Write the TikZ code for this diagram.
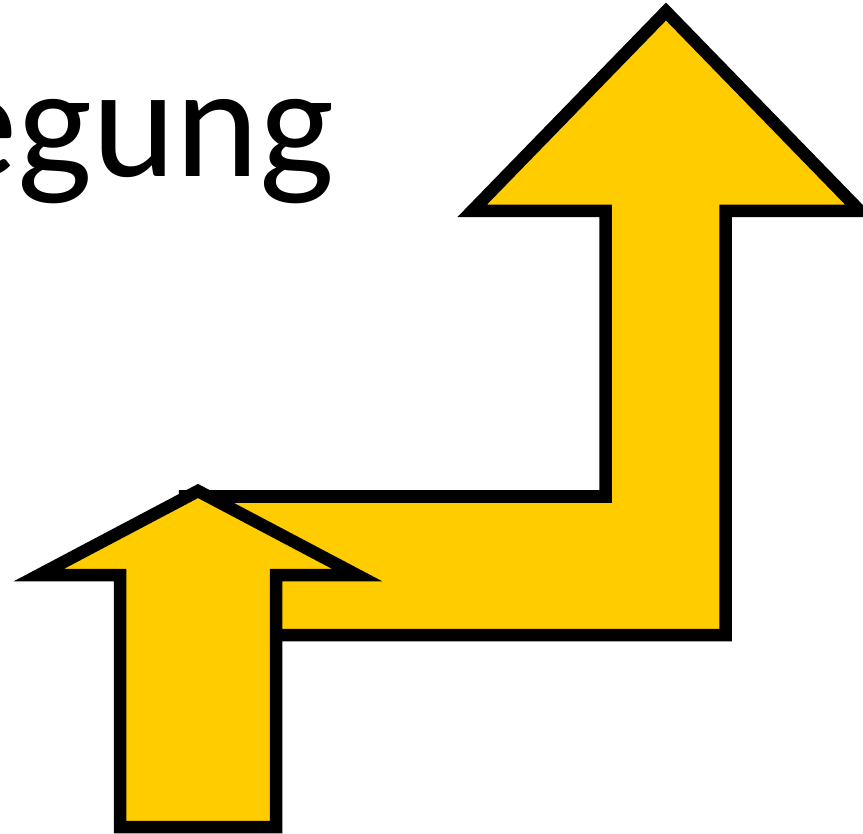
\documentclass[tikz,border=0pt]{standalone}
\usepackage{fontspec}
\setmainfont{Carlito}
\begin{document}
\begin{tikzpicture}[x=1pt,y=-1pt,
  arrowshape/.style={draw=black,fill=arrowyellow,line width=12.5pt,line join=miter,miter limit=10}]
\definecolor{arrowyellow}{HTML}{FFCC00}
\useasboundingbox (0,0) rectangle (863,834);
\clip (0,0) rectangle (863,834);
\node[anchor=base east,inner sep=0pt,font=\fontsize{159}{170}\selectfont] (title) at (334,177) {Bewegung};
% big bent arrow
\draw[arrowshape] (185,496.5) -- (605.5,496.5) -- (605.5,211) -- (472,211) -- (666,11.5)
  -- (860,211) -- (725.5,211) -- (725.5,635) -- (185,635) -- cycle;
% small arrow
\draw[arrowshape] (120,827) -- (120,575) -- (39,575) -- (198,491) -- (357,575)
  -- (276,575) -- (276,827) -- cycle;
\end{tikzpicture}
\end{document}
